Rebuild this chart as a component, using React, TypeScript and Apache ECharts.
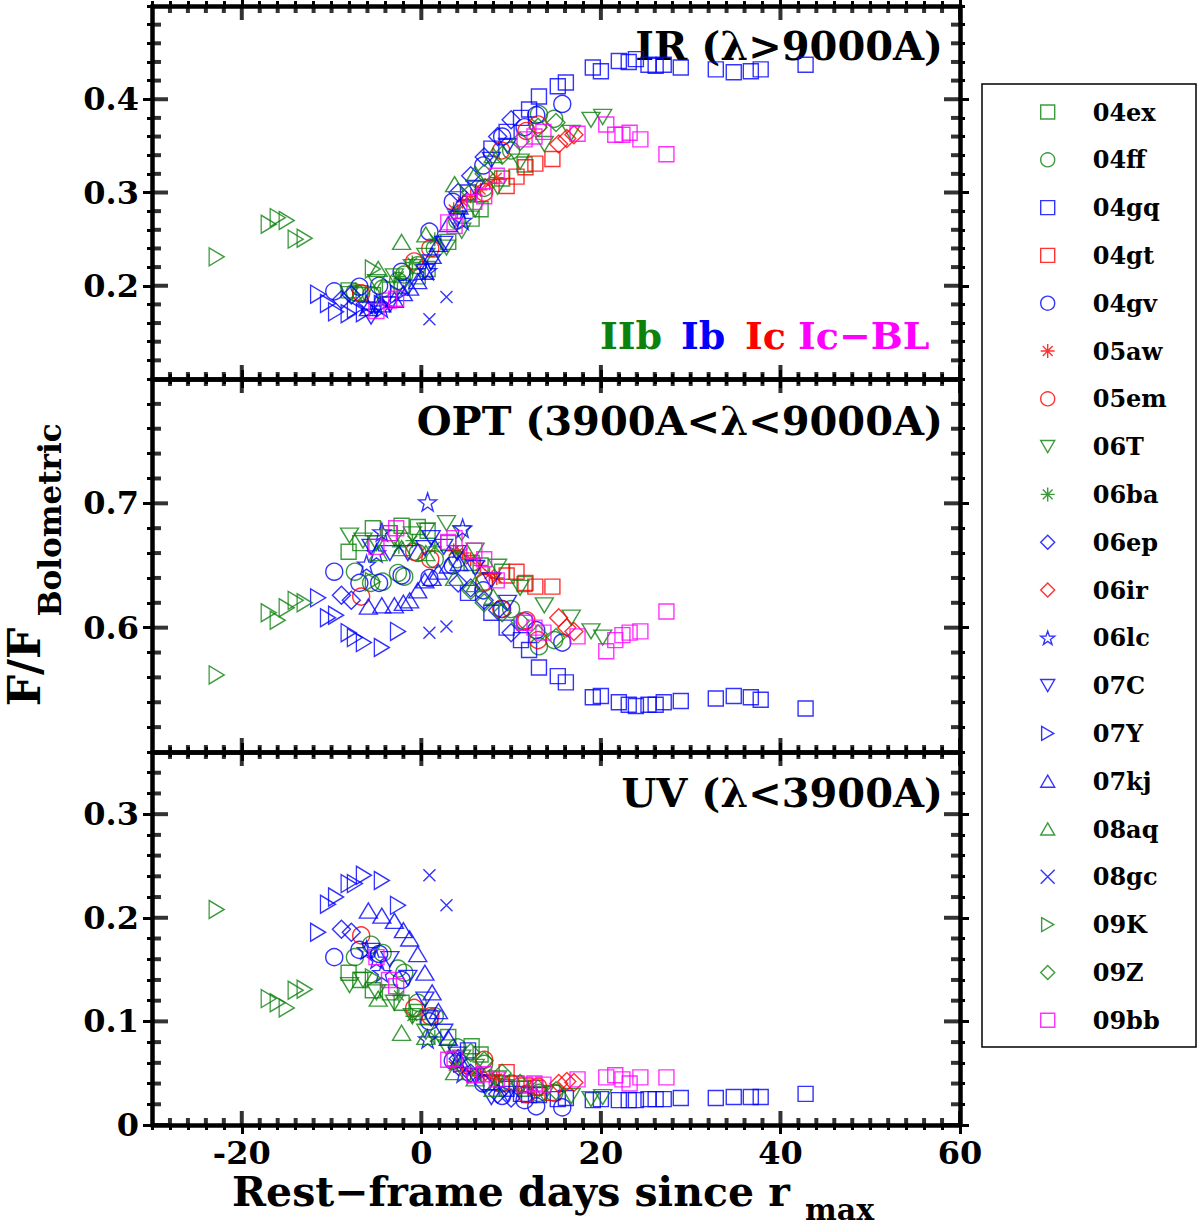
import { useEffect, useRef } from 'react';
import * as echarts from 'echarts';

const FONT = '"DejaVu Serif", serif';
const GREEN = '#0c820c';
const BLUE = '#0000ff';
const RED = '#ff0000';
const MAGENTA = '#ff00ff';

// axis ranges and labelled ticks
const DAY_MIN = -30;
const DAY_MAX = 60;
const DAY_TICKS = [-20, 0, 20, 40, 60];
const DAY_MINOR_STEP = 2;
const IR_TICKS = [0.2, 0.3, 0.4];
const OPT_TICKS = [0.6, 0.7];
const UV_TICKS = [0, 0.1, 0.2, 0.3];
const FRAC_MINOR_STEP = 0.02;

// per-SN data: rest-frame days, then IR / OPT / UV fraction of bolometric flux
const sn04exDays = [-8.1, -6.8, -5.4, -3.5, -2.2, -0.4, 0.7, 3.0, 5.6, 6.6, 9.0, 11.5];
const sn04exIr = [0.195, 0.192, 0.19, 0.196, 0.2, 0.21, 0.218, 0.247, 0.272, 0.282, 0.315, 0.33];
const sn04exOpt = [0.661, 0.668, 0.68, 0.676, 0.682, 0.681, 0.678, 0.668, 0.652, 0.65, 0.645, 0.635];
const sn04exUv = [0.147, 0.14, 0.13, 0.128, 0.118, 0.109, 0.104, 0.085, 0.076, 0.068, 0.04, 0.035];

const sn04ffDays = [-7.4, -5.6, -4.3, -2.6, -1.9, -0.4, 1.5, 4.0, 7.0, 10.0, 13.1, 14.8];
const sn04ffIr = [0.193, 0.19, 0.197, 0.205, 0.212, 0.222, 0.24, 0.27, 0.305, 0.345, 0.384, 0.379];
const sn04ffOpt = [0.645, 0.636, 0.637, 0.644, 0.641, 0.66, 0.655, 0.655, 0.636, 0.615, 0.585, 0.59];
const sn04ffUv = [0.162, 0.174, 0.166, 0.151, 0.147, 0.118, 0.105, 0.075, 0.059, 0.04, 0.031, 0.031];

const sn04gqDays = [5.2, 7.8, 9.5, 11.1, 12.0, 13.1, 15.2, 16.1, 19.1, 20.0, 22.0, 23.1, 23.9, 25.3, 26.1, 27.0, 28.9, 32.8, 34.8, 36.7, 37.8, 42.8];
const sn04gqIr = [0.3, 0.347, 0.365, 0.38, 0.389, 0.403, 0.414, 0.418, 0.434, 0.43, 0.441, 0.44, 0.443, 0.437, 0.436, 0.437, 0.434, 0.432, 0.429, 0.43, 0.432, 0.437];
const sn04gqOpt = [0.628, 0.612, 0.6, 0.59, 0.582, 0.568, 0.561, 0.556, 0.544, 0.545, 0.54, 0.538, 0.537, 0.538, 0.538, 0.54, 0.541, 0.543, 0.545, 0.544, 0.542, 0.535];
const sn04gqUv = [0.072, 0.041, 0.035, 0.03, 0.029, 0.029, 0.025, 0.026, 0.024, 0.025, 0.024, 0.024, 0.024, 0.025, 0.025, 0.025, 0.026, 0.026, 0.027, 0.027, 0.027, 0.03];

const sn04gtDays = [9.5, 10.6, 11.6, 12.7, 14.6];
const sn04gtIr = [0.307, 0.317, 0.327, 0.331, 0.336];
const sn04gtOpt = [0.642, 0.645, 0.636, 0.633, 0.633];
const sn04gtUv = [0.051, 0.04, 0.038, 0.036, 0.031];

const sn04gvDays = [-9.7, -6.9, -4.7, -2.2, 0.9, 3.5, 6.9, 9.0, 11.5, 12.8, 15.7];
const sn04gvIr = [0.194, 0.199, 0.2, 0.215, 0.258, 0.29, 0.329, 0.36, 0.37, 0.383, 0.395];
const sn04gvOpt = [0.645, 0.636, 0.636, 0.642, 0.64, 0.65, 0.63, 0.615, 0.605, 0.598, 0.588];
const sn04gvUv = [0.162, 0.169, 0.165, 0.14, 0.1, 0.062, 0.04, 0.028, 0.024, 0.018, 0.017];

const sn05awDays = [3.6, 4.6, 5.5, 6.6, 7.6, 8.4];
const sn05awIr = [0.282, 0.29, 0.296, 0.303, 0.31, 0.316];
const sn05awOpt = [0.662, 0.66, 0.655, 0.65, 0.643, 0.64];
const sn05awUv = [0.057, 0.052, 0.05, 0.048, 0.047, 0.045];

const sn05emDays = [-6.7, -0.8, 1.0, 7.0, 8.9, 11.7, 13.0];
const sn05emIr = [0.192, 0.226, 0.24, 0.3, 0.345, 0.366, 0.373];
const sn05emOpt = [0.625, 0.661, 0.655, 0.637, 0.615, 0.606, 0.59];
const sn05emUv = [0.183, 0.113, 0.105, 0.063, 0.04, 0.03, 0.037];

const sn06TDays = [-8.0, -6.5, -5.0, -3.0, -1.0, 0.5, 2.8, 4.5, 6.0, 8.5, 11.0, 13.7, 16.7, 18.9, 20.2];
const sn06TIr = [0.191, 0.19, 0.204, 0.21, 0.22, 0.232, 0.241, 0.259, 0.282, 0.306, 0.333, 0.352, 0.364, 0.378, 0.381];
const sn06TOpt = [0.674, 0.67, 0.668, 0.672, 0.675, 0.678, 0.684, 0.676, 0.662, 0.649, 0.632, 0.618, 0.608, 0.597, 0.592];
const sn06TUv = [0.135, 0.14, 0.128, 0.118, 0.105, 0.09, 0.075, 0.065, 0.056, 0.045, 0.035, 0.03, 0.028, 0.025, 0.027];

const sn06baDays = [-2.5, -1.0, 1.5, 4.0];
const sn06baIr = [0.21, 0.225, 0.25, 0.28];
const sn06baOpt = [0.665, 0.67, 0.665, 0.66];
const sn06baUv = [0.125, 0.105, 0.085, 0.06];

const sn06epDays = [-8.9, -7.8, 4.1, 5.5, 7.0, 8.5, 10.0];
const sn06epIr = [0.185, 0.19, 0.3, 0.318, 0.338, 0.36, 0.378];
const sn06epOpt = [0.626, 0.622, 0.636, 0.632, 0.622, 0.614, 0.596];
const sn06epUv = [0.189, 0.186, 0.064, 0.05, 0.04, 0.03, 0.026];

const sn06irDays = [15.3, 16.2, 17.0];
const sn06irIr = [0.352, 0.358, 0.362];
const sn06irOpt = [0.608, 0.6, 0.597];
const sn06irUv = [0.04, 0.042, 0.041];

const sn06lcDays = [-6.1, -5.0, -4.4, 0.7, 4.6];
const sn06lcIr = [0.18, 0.18, 0.176, 0.216, 0.27];
const sn06lcOpt = [0.651, 0.66, 0.677, 0.701, 0.68];
const sn06lcUv = [0.169, 0.16, 0.147, 0.083, 0.05];

const sn07CDays = [-5.6, -3.5, -1.5, 0.4, 1.1, 2.5, 4.0, 6.0, 7.8, 9.6];
const sn07CIr = [0.167, 0.18, 0.198, 0.215, 0.225, 0.245, 0.272, 0.305, 0.335, 0.35];
const sn07COpt = [0.665, 0.66, 0.66, 0.664, 0.672, 0.665, 0.66, 0.648, 0.638, 0.62];
const sn07CUv = [0.168, 0.16, 0.142, 0.121, 0.103, 0.09, 0.068, 0.047, 0.027, 0.03];

const sn07YDays = [-11.5, -10.4, -9.5, -8.1, -7.4, -6.4, -4.4, -2.6];
const sn07YIr = [0.191, 0.181, 0.172, 0.17, 0.175, 0.171, 0.18, 0.191];
const sn07YOpt = [0.624, 0.608, 0.61, 0.596, 0.592, 0.588, 0.584, 0.597];
const sn07YUv = [0.186, 0.213, 0.22, 0.233, 0.233, 0.241, 0.236, 0.212];

const sn07kjDays = [-5.9, -4.4, -3.0, -2.0, -1.3, -0.4, 0.4, 1.2, 1.9, 3.0, 4.2];
const sn07kjIr = [0.176, 0.18, 0.185, 0.192, 0.198, 0.205, 0.215, 0.232, 0.245, 0.266, 0.285];
const sn07kjOpt = [0.617, 0.618, 0.618, 0.62, 0.622, 0.63, 0.638, 0.64, 0.645, 0.65, 0.652];
const sn07kjUv = [0.207, 0.202, 0.197, 0.188, 0.18, 0.165, 0.147, 0.128, 0.11, 0.084, 0.063];

const sn08aqDays = [-4.8, -2.2, 0.5, 3.7, 6.0, 8.0];
const sn08aqIr = [0.218, 0.247, 0.255, 0.309, 0.32, 0.34];
const sn08aqOpt = [0.66, 0.664, 0.66, 0.64, 0.635, 0.625];
const sn08aqUv = [0.122, 0.089, 0.085, 0.051, 0.045, 0.035];

const sn08gcDays = [0.9, 2.8];
const sn08gcIr = [0.164, 0.188];
const sn08gcOpt = [0.596, 0.601];
const sn08gcUv = [0.241, 0.212];

const sn09KDays = [-22.8, -17.0, -16.0, -15.0, -14.0, -13.0, -5.4];
const sn09KIr = [0.231, 0.266, 0.273, 0.27, 0.25, 0.251, 0.218];
const sn09KOpt = [0.562, 0.612, 0.606, 0.616, 0.622, 0.62, 0.637];
const sn09KUv = [0.208, 0.122, 0.118, 0.113, 0.13, 0.131, 0.142];

const sn09ZDays = [5.5, 7.0, 9.0, 11.0, 13.0, 15.0];
const sn09ZIr = [0.3, 0.32, 0.34, 0.355, 0.37, 0.375];
const sn09ZOpt = [0.63, 0.62, 0.612, 0.605, 0.595, 0.592];
const sn09ZUv = [0.07, 0.062, 0.05, 0.04, 0.035, 0.033];

const sn09bbDays = [-5.0, -3.6, -2.8, 3.0, 3.7, 5.9, 7.0, 8.4, 11.5, 12.6, 13.6, 17.4, 20.6, 21.6, 22.4, 23.2, 24.4, 27.3];
const sn09bbIr = [0.173, 0.184, 0.186, 0.268, 0.264, 0.29, 0.296, 0.318, 0.357, 0.36, 0.365, 0.363, 0.373, 0.362, 0.362, 0.364, 0.357, 0.341];
const sn09bbOpt = [0.665, 0.676, 0.68, 0.669, 0.672, 0.662, 0.655, 0.638, 0.604, 0.6, 0.596, 0.593, 0.581, 0.59, 0.594, 0.596, 0.597, 0.613];
const sn09bbUv = [0.162, 0.14, 0.134, 0.063, 0.064, 0.048, 0.049, 0.044, 0.039, 0.04, 0.039, 0.044, 0.046, 0.048, 0.044, 0.04, 0.046, 0.046];

// marker shapes (hollow, IDL-like)
const SQUARE = 'rect';
const CIRCLE = 'circle';
const DIAMOND = 'path://M5,0L10,5L5,10L0,5Z';
const TRI_UP = 'path://M5,0L10,8.66L0,8.66Z';
const TRI_DOWN = 'path://M0,0L10,0L5,8.66Z';
const TRI_RIGHT = 'path://M0,0L8.66,5L0,10Z';
const STAR = 'path://M5,0L6.18,3.38L9.76,3.45L6.9,5.62L7.94,9.05L5,7L2.06,9.05L3.1,5.62L0.24,3.45L3.82,3.38Z';
const ASTERISK = 'path://M5,0L5,10M0,5L10,5M1.5,1.5L8.5,8.5M1.5,8.5L8.5,1.5';
const CROSS = 'path://M0,0L10,10M0,10L10,0';

const SNE = [
  { name: '04ex', color: GREEN, symbol: SQUARE, size: 15, days: sn04exDays, ir: sn04exIr, opt: sn04exOpt, uv: sn04exUv },
  { name: '04ff', color: GREEN, symbol: CIRCLE, size: 17, days: sn04ffDays, ir: sn04ffIr, opt: sn04ffOpt, uv: sn04ffUv },
  { name: '04gq', color: BLUE, symbol: SQUARE, size: 15, days: sn04gqDays, ir: sn04gqIr, opt: sn04gqOpt, uv: sn04gqUv },
  { name: '04gt', color: RED, symbol: SQUARE, size: 15, days: sn04gtDays, ir: sn04gtIr, opt: sn04gtOpt, uv: sn04gtUv },
  { name: '04gv', color: BLUE, symbol: CIRCLE, size: 17, days: sn04gvDays, ir: sn04gvIr, opt: sn04gvOpt, uv: sn04gvUv },
  { name: '05aw', color: RED, symbol: ASTERISK, size: 14, days: sn05awDays, ir: sn05awIr, opt: sn05awOpt, uv: sn05awUv },
  { name: '05em', color: RED, symbol: CIRCLE, size: 17, days: sn05emDays, ir: sn05emIr, opt: sn05emOpt, uv: sn05emUv },
  { name: '06T', color: GREEN, symbol: TRI_DOWN, size: [18, 15], days: sn06TDays, ir: sn06TIr, opt: sn06TOpt, uv: sn06TUv },
  { name: '06ba', color: GREEN, symbol: ASTERISK, size: 14, days: sn06baDays, ir: sn06baIr, opt: sn06baOpt, uv: sn06baUv },
  { name: '06ep', color: BLUE, symbol: DIAMOND, size: 18, days: sn06epDays, ir: sn06epIr, opt: sn06epOpt, uv: sn06epUv },
  { name: '06ir', color: RED, symbol: DIAMOND, size: 18, days: sn06irDays, ir: sn06irIr, opt: sn06irOpt, uv: sn06irUv },
  { name: '06lc', color: BLUE, symbol: STAR, size: 18, days: sn06lcDays, ir: sn06lcIr, opt: sn06lcOpt, uv: sn06lcUv },
  { name: '07C', color: BLUE, symbol: TRI_DOWN, size: [18, 15], days: sn07CDays, ir: sn07CIr, opt: sn07COpt, uv: sn07CUv },
  { name: '07Y', color: BLUE, symbol: TRI_RIGHT, size: [15, 18], days: sn07YDays, ir: sn07YIr, opt: sn07YOpt, uv: sn07YUv },
  { name: '07kj', color: BLUE, symbol: TRI_UP, size: [18, 15], days: sn07kjDays, ir: sn07kjIr, opt: sn07kjOpt, uv: sn07kjUv },
  { name: '08aq', color: GREEN, symbol: TRI_UP, size: [18, 15], days: sn08aqDays, ir: sn08aqIr, opt: sn08aqOpt, uv: sn08aqUv },
  { name: '08gc', color: BLUE, symbol: CROSS, size: 12, days: sn08gcDays, ir: sn08gcIr, opt: sn08gcOpt, uv: sn08gcUv },
  { name: '09K', color: GREEN, symbol: TRI_RIGHT, size: [15, 18], days: sn09KDays, ir: sn09KIr, opt: sn09KOpt, uv: sn09KUv },
  { name: '09Z', color: GREEN, symbol: DIAMOND, size: 18, days: sn09ZDays, ir: sn09ZIr, opt: sn09ZOpt, uv: sn09ZUv },
  { name: '09bb', color: MAGENTA, symbol: SQUARE, size: 15, days: sn09bbDays, ir: sn09bbIr, opt: sn09bbOpt, uv: sn09bbUv },
];

const PANELS = [
  { key: 'ir', min: 0.1, max: 0.5, ticks: IR_TICKS, top: 6 },
  { key: 'opt', min: 0.5, max: 0.8, ticks: OPT_TICKS, top: 379 },
  { key: 'uv', min: 0, max: 0.36, ticks: UV_TICKS, top: 752 },
] as const;
const GRID_LEFT = 152;
const GRID_RIGHT = 240;
const PANEL_H = 373;
const TICK_W = 4;
const AXES_PER_DIM = 4;

const tickFont = { color: '#000', fontSize: 32, fontWeight: 'bold', fontFamily: FONT };
const frameLine = { show: true, onZero: false, lineStyle: { color: '#000', width: 4.5 } };
const noLine = { show: false, onZero: false };
const axisTick = (length: number, customValues?: number[]) => ({
  show: true,
  inside: false,
  length,
  ...(customValues ? { customValues } : {}),
  lineStyle: { color: '#000', width: 3 },
});

// values strictly between min and max, one per step
function steps(min: number, max: number, step: number) {
  const out: number[] = [];
  const n = Math.round((max - min) / step);
  for (let i = 1; i < n; i++) out.push(+(min + i * step).toFixed(4));
  return out;
}

// every side of a panel: a framed axis with the labelled ticks, plus a bare one with the minor ticks
function xAxesFor(g: number) {
  const base = { gridIndex: g, type: 'value', min: DAY_MIN, max: DAY_MAX, splitLine: { show: false } };
  const major = (position: string, labels: boolean) => ({
    ...base,
    position,
    axisLine: frameLine,
    axisTick: axisTick(9, DAY_TICKS),
    axisLabel: { show: labels, customValues: DAY_TICKS, margin: 12, ...tickFont },
  });
  const minor = (position: string) => ({
    ...base,
    position,
    interval: DAY_MINOR_STEP,
    axisLine: noLine,
    axisTick: axisTick(5),
    axisLabel: { show: false },
  });
  return [major('bottom', g === 2), minor('bottom'), major('top', false), minor('top')];
}

function yAxesFor(g: number) {
  const p = PANELS[g];
  const base = { gridIndex: g, type: 'value', min: p.min, max: p.max, splitLine: { show: false } };
  const major = (position: string, labels: boolean) => ({
    ...base,
    position,
    axisLine: frameLine,
    axisTick: axisTick(9, [...p.ticks]),
    axisLabel: { show: labels, customValues: [...p.ticks], margin: 13, ...tickFont },
  });
  const minor = (position: string) => ({
    ...base,
    position,
    interval: FRAC_MINOR_STEP,
    axisLine: noLine,
    axisTick: axisTick(5),
    axisLabel: { show: false },
  });
  return [major('left', true), minor('left'), major('right', false), minor('right')];
}

// inward IDL-style ticks: small black bars on the panel edges, placed through
// the axes' scales and shifted into the plot by half their length
function tickSeries(g: number) {
  const p = PANELS[g];
  const data: any[] = [];
  const xMinor = steps(DAY_MIN, DAY_MAX, DAY_MINOR_STEP).filter((v) => !DAY_TICKS.includes(v));
  const yMinor = steps(p.min, p.max, FRAC_MINOR_STEP).filter((v) => !(p.ticks as readonly number[]).includes(v));
  const xTicks = [...DAY_TICKS.map((v) => [v, 14]), ...xMinor.map((v) => [v, 7])];
  const yTicks = [...p.ticks.map((v) => [v, 16]), ...yMinor.map((v) => [v, 9])];
  xTicks.forEach(([v, len]) => {
    data.push({ value: [v, p.min], symbolSize: [TICK_W, len], symbolOffset: [0, -len / 2] });
    data.push({ value: [v, p.max], symbolSize: [TICK_W, len], symbolOffset: [0, len / 2] });
  });
  yTicks.forEach(([v, len]) => {
    data.push({ value: [DAY_MIN, v], symbolSize: [len, TICK_W], symbolOffset: [len / 2, 0] });
    data.push({ value: [DAY_MAX, v], symbolSize: [len, TICK_W], symbolOffset: [-len / 2, 0] });
  });
  return {
    type: 'scatter',
    xAxisIndex: g * AXES_PER_DIM,
    yAxisIndex: g * AXES_PER_DIM,
    symbol: 'rect',
    clip: false,
    silent: true,
    z: 5,
    itemStyle: { color: '#000', borderWidth: 0 },
    data,
  };
}

const labelText = (text: string, x: number, y: number, fill = '#000', size = 40, align = 'right') => ({
  type: 'text',
  x,
  y,
  silent: true,
  style: { text, fill, font: `bold ${size}px ${FONT}`, textAlign: align, textVerticalAlign: 'middle' },
});

function buildOption() {
  const series: any[] = [];
  PANELS.forEach((p, g) => {
    SNE.forEach((sn) => {
      const vals = sn[p.key];
      series.push({
        type: 'scatter',
        name: sn.name,
        xAxisIndex: g * AXES_PER_DIM,
        yAxisIndex: g * AXES_PER_DIM,
        symbol: sn.symbol,
        symbolSize: sn.size,
        silent: true,
        itemStyle: { color: 'transparent', borderColor: sn.color, borderWidth: 1.4 },
        data: sn.days.map((d, i) => [d, vals[i]]),
      });
    });
    series.push(tickSeries(g));
  });

  return {
    animation: false,
    backgroundColor: '#fff',
    grid: PANELS.map((p) => ({ left: GRID_LEFT, right: GRID_RIGHT, top: p.top, height: PANEL_H })),
    xAxis: [0, 1, 2].flatMap(xAxesFor),
    yAxis: [0, 1, 2].flatMap(yAxesFor),
    legend: {
      data: SNE.map((s) => s.name),
      orient: 'vertical',
      left: 1035,
      top: 94,
      itemWidth: 14,
      itemHeight: 14,
      itemGap: 21.8,
      selectedMode: false,
      itemStyle: { borderWidth: 1.4 },
      textStyle: { color: '#000', fontSize: 24, fontWeight: 'bold', fontFamily: FONT, lineHeight: 26, padding: [0, 0, 0, 33] },
    },
    graphic: [
      { type: 'rect', shape: { x: 982, y: 84, width: 214, height: 963 }, style: { fill: 'none', stroke: '#000', lineWidth: 1.5 }, silent: true },
      labelText('IR (λ>9000A)', 943, 45),
      labelText('OPT (3900A<λ<9000A)', 943, 420),
      labelText('UV (λ<3900A)', 943, 792),
      labelText('IIb', 600, 335, GREEN, 38, 'left'),
      labelText('Ib', 681, 335, BLUE, 38, 'left'),
      labelText('Ic', 745, 335, RED, 38, 'left'),
      labelText('Ic−BL', 798, 335, MAGENTA, 38, 'left'),
      labelText('Rest−frame days since r', 232, 1192, '#000', 41, 'left'),
      labelText('max', 805, 1209, '#000', 30, 'left'),
      { ...labelText('F/F', 24, 667, '#000', 44, 'center'), rotation: Math.PI / 2 },
      { ...labelText('Bolometric', 50, 520, '#000', 31, 'center'), rotation: Math.PI / 2 },
    ],
    series,
  };
}

export default function App() {
  const ref = useRef<HTMLDivElement>(null);

  useEffect(() => {
    document.body.style.margin = '0';
    if (!ref.current) return;
    const chart = echarts.init(ref.current, undefined, { renderer: 'svg' });
    chart.setOption(buildOption() as any);
    return () => chart.dispose();
  }, []);

  return <div ref={ref} style={{ width: 1200, height: 1224 }} />;
}
